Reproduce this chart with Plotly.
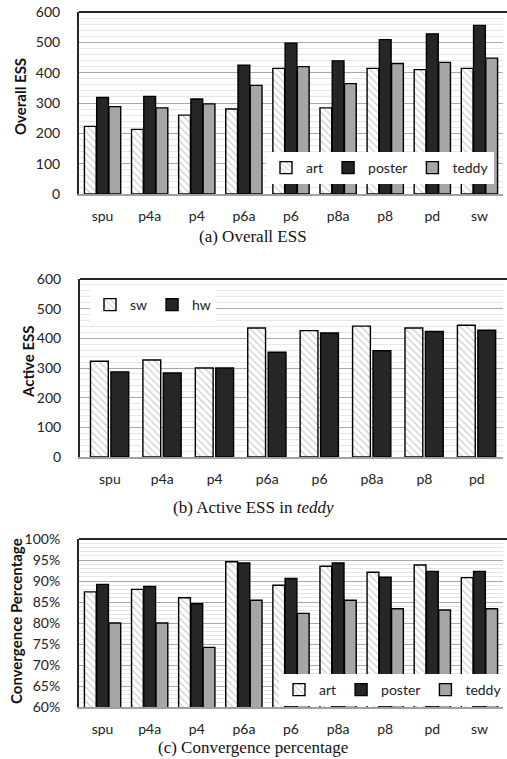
import plotly.graph_objects as go

# ---------------- data ----------------
cats9 = ["spu", "p4a", "p4", "p6a", "p6", "p8a", "p8", "pd", "sw"]
cats8 = ["spu", "p4a", "p4", "p6a", "p6", "p8a", "p8", "pd"]

ess_art = [223, 213, 260, 280, 414, 284, 414, 410, 414]
ess_poster = [318, 322, 313, 425, 497, 439, 509, 528, 556]
ess_teddy = [288, 284, 297, 358, 420, 364, 430, 434, 448]

active_sw = [323, 327, 300, 435, 426, 441, 435, 444]
active_hw = [287, 283, 300, 353, 418, 358, 423, 427]

conv_art = [87.4, 88.0, 86.0, 94.6, 89.0, 93.5, 92.1, 93.8, 90.8]
conv_poster = [89.2, 88.7, 84.6, 94.3, 90.6, 94.3, 90.9, 92.3, 92.3]
conv_teddy = [80.0, 80.0, 74.2, 85.4, 82.3, 85.4, 83.4, 83.1, 83.4]

W, H = 507, 759
FAM = "Lato, Open Sans, sans-serif"
TICKFONT = dict(family=FAM, size=14, color="#222222")
TITLEFONT = dict(family=FAM, size=15, color="#111111")
CAPFONT = dict(family="Liberation Serif, Times New Roman, serif", size=17, color="#111111")
LEGFONT = dict(family=FAM, size=14, color="#222222")
DARK = "#262626"
GRAY = "#a6a6a6"

def py(px):
    return 1 - px / H

def px_x(px):
    return px / W

fig = go.Figure()

hatch = dict(shape="\\", fgcolor="#9a9a9a", bgcolor="white", size=5, solidity=0.25)
outline = dict(color="black", width=1.4)

def add3(art, poster, teddy, xa, ya, leg):
    fig.add_trace(go.Bar(x=cats9, y=art, name="art", xaxis=xa, yaxis=ya, legend=leg,
                         offset=-0.385, width=0.25,
                         marker=dict(color="white", pattern=hatch, line=outline)))
    fig.add_trace(go.Bar(x=cats9, y=poster, name="poster", xaxis=xa, yaxis=ya, legend=leg,
                         offset=-0.125, width=0.25,
                         marker=dict(color=DARK, line=outline)))
    fig.add_trace(go.Bar(x=cats9, y=teddy, name="teddy", xaxis=xa, yaxis=ya, legend=leg,
                         offset=0.135, width=0.25,
                         marker=dict(color=GRAY, line=outline)))

add3(ess_art, ess_poster, ess_teddy, "x", "y", "legend")

fig.add_trace(go.Bar(x=cats8, y=active_sw, name="sw", xaxis="x2", yaxis="y2", legend="legend2",
                     offset=-0.37, width=0.34,
                     marker=dict(color="white", pattern=hatch, line=outline)))
fig.add_trace(go.Bar(x=cats8, y=active_hw, name="hw", xaxis="x2", yaxis="y2", legend="legend2",
                     offset=0.02, width=0.34,
                     marker=dict(color=DARK, line=outline)))

add3(conv_art, conv_poster, conv_teddy, "x3", "y3", "legend3")

# panel geometry (pixels)
pa = dict(left=79, right=503, top=12, bottom=194)
pb = dict(left=80, right=503, top=279, bottom=457)
pc = dict(left=79, right=503, top=539, bottom=707)

def xaxis(p, rng, anchor):
    return dict(domain=[px_x(p["left"]), px_x(p["right"])], range=rng, type="category",
                anchor=anchor, automargin=False,
                showline=True, linecolor="#a0a0a0", linewidth=1.5, ticks="",
                tickfont=TICKFONT, ticklabelstandoff=8, showgrid=False, fixedrange=True)

def yaxis(p, anchor, rng, dtick, minor_dtick, suffix=""):
    return dict(domain=[py(p["bottom"]), py(p["top"])], range=rng, anchor=anchor,
                automargin=False,
                dtick=dtick, ticksuffix=suffix, showline=True, linecolor="#262626", linewidth=2,
                ticks="", tickfont=TICKFONT, ticklabelstandoff=14,
                showgrid=True, gridcolor="#a8a8a8", gridwidth=1.2, zeroline=False,
                minor=dict(dtick=minor_dtick, showgrid=True, gridcolor="#e6e6e6", gridwidth=1),
                fixedrange=True)

legbase = dict(yanchor="top", orientation="h", bgcolor="white",
               font=LEGFONT, itemwidth=30)

fig.update_layout(
    width=W, height=H,
    margin=dict(l=0, r=0, t=0, b=0, autoexpand=False),
    paper_bgcolor="white", plot_bgcolor="white",
    barmode="overlay",
    showlegend=True,
    xaxis=xaxis(pa, [-0.5, 8.5], "y"),
    yaxis=yaxis(pa, "x", [0, 600], 100, 20),
    xaxis2=xaxis(pb, [-0.57, 7.5], "y2"),
    yaxis2=yaxis(pb, "x2", [0, 600], 100, 20),
    xaxis3=xaxis(pc, [-0.5, 8.5], "y3"),
    yaxis3=yaxis(pc, "x3", [60, 100], 5, 1, "%"),
    legend=dict(x=px_x(266), y=py(152), xanchor="left", **legbase),
    legend2=dict(x=px_x(90), y=py(289), xanchor="left", **legbase),
    legend3=dict(x=1.0, y=py(674), xanchor="right", **legbase),
)

# top borders
for p in (pa, pb, pc):
    fig.add_shape(type="line", xref="paper", yref="paper",
                  x0=px_x(p["left"]), x1=1, y0=py(p["top"]), y1=py(p["top"]),
                  line=dict(color="#262626", width=2))

ann = [
    ("<b>Overall ESS</b>", 20, 97, -90, TITLEFONT),
    ("<b>Active ESS</b>", 28, 362, -90, TITLEFONT),
    ("<b>Convergence Percentage</b>", 16, 621, -90, TITLEFONT),
    ("(a) Overall ESS", 253, 236, 0, CAPFONT),
    ("(b) Active ESS in <i>teddy</i>", 253, 507, 0, CAPFONT),
    ("(c) Convergence percentage", 253, 747, 0, CAPFONT),
]
for text, x, y, ang, font in ann:
    fig.add_annotation(text=text, xref="paper", yref="paper", x=px_x(x), y=py(y),
                       xanchor="center", yanchor="middle", showarrow=False,
                       textangle=ang, font=font)

fig.write_html(
    "out.html",
    config={"displayModeBar": False},
    post_script="document.body.style.margin='0';document.body.style.overflow='hidden';",
)
